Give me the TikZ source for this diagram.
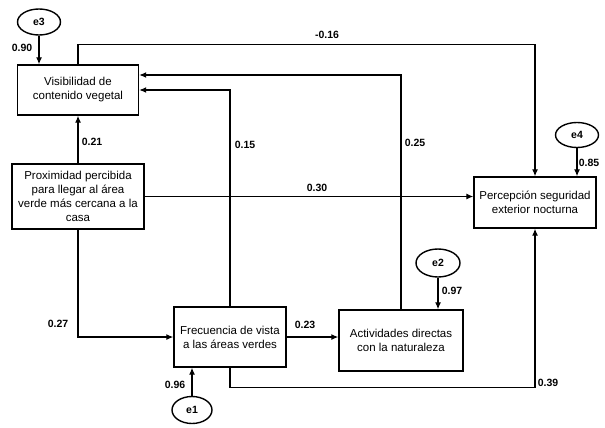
\documentclass[tikz,border=0pt]{standalone}
\usepackage{fontspec}
\setmainfont{Liberation Sans}
\usetikzlibrary{shapes.geometric, arrows.meta}
\begin{document}
\begin{tikzpicture}[x=1pt, y=-1pt, >={Latex[length=7pt,width=6pt]},
    var/.style={draw, line width=1.4pt, align=center, inner sep=2pt,
      font=\fontsize{11.5}{14}\selectfont},
    err/.style={draw, ellipse, line width=1.4pt, font=\fontsize{10.5}{12}\selectfont\bfseries},
    coef/.style={font=\fontsize{10.5}{12}\selectfont\bfseries, inner sep=0pt},
    link/.style={->, line width=1.2pt}]
    \useasboundingbox (0,0) rectangle (605,428);

    % Variables
    \node[var, minimum width=121pt, minimum height=50pt] (vis) at (78,90) {Visibilidad de\\contenido vegetal};
    \node[var, minimum width=132pt, minimum height=65pt] (prox) at (78,196.5) {Proximidad percibida\\para llegar al área\\verde más cercana a la\\casa};
    \node[var, minimum width=122pt, minimum height=51pt] (perc) at (535,202.5) {Percepción seguridad\\exterior nocturna};
    \node[var, minimum width=112pt, minimum height=60pt] (freq) at (230,337) {Frecuencia de vista\\a las áreas verdes};
    \node[var, minimum width=124pt, minimum height=61pt] (act) at (401,340.5) {Actividades directas\\con la naturaleza};

    % Errors
    \node[err, minimum width=43pt, minimum height=26pt] (e3) at (39,22) {e3};
    \node[err, minimum width=43pt, minimum height=25pt] (e4) at (577,135) {e4};
    \node[err, minimum width=44pt, minimum height=28pt] (e2) at (438,263) {e2};
    \node[err, minimum width=40pt, minimum height=27pt] (e1) at (192,410) {e1};

    % Paths
    \draw[link] (e3.south) -- (e3 |- vis.north);
    \draw[link] (e4.south) -- (e4 |- perc.north);
    \draw[link] (e2.south) -- (e2 |- act.north);
    \draw[link] (e1.north) -- (e1 |- freq.south);
    \draw[link] (vis.north) -- ++(0,-20) -| (perc.north);
    \draw[link] (act.north) |- ([yshift=15pt]vis.east);
    \draw[link] (freq.north) |- (vis.east);
    \draw[link] (prox.north) -- (vis.south);
    \draw[link] (prox.east) -- (prox.east -| perc.west);
    \draw[link] (prox.south) |- (freq.west);
    \draw[link] (freq.east) -- (freq.east -| act.west);
    \draw[link] (freq.south) -- ++(0,20) -| (perc.south);

    % Coefficients
    \node[coef] (c90) at (22,48) {0.90};
    \node[coef] (c16) at (327,35) {-0.16};
    \node[coef] (c21) at (92,142) {0.21};
    \node[coef] (c15) at (245,145) {0.15};
    \node[coef] (c25) at (415,143) {0.25};
    \node[coef] (c30) at (317,188) {0.30};
    \node[coef] (c85) at (589,163) {0.85};
    \node[coef] (c97) at (452,291) {0.97};
    \node[coef] (c27) at (58,324) {0.27};
    \node[coef] (c23) at (305,325) {0.23};
    \node[coef] (c96) at (175,385) {0.96};
    \node[coef] (c39) at (548,383) {0.39};
\end{tikzpicture}
\end{document}
